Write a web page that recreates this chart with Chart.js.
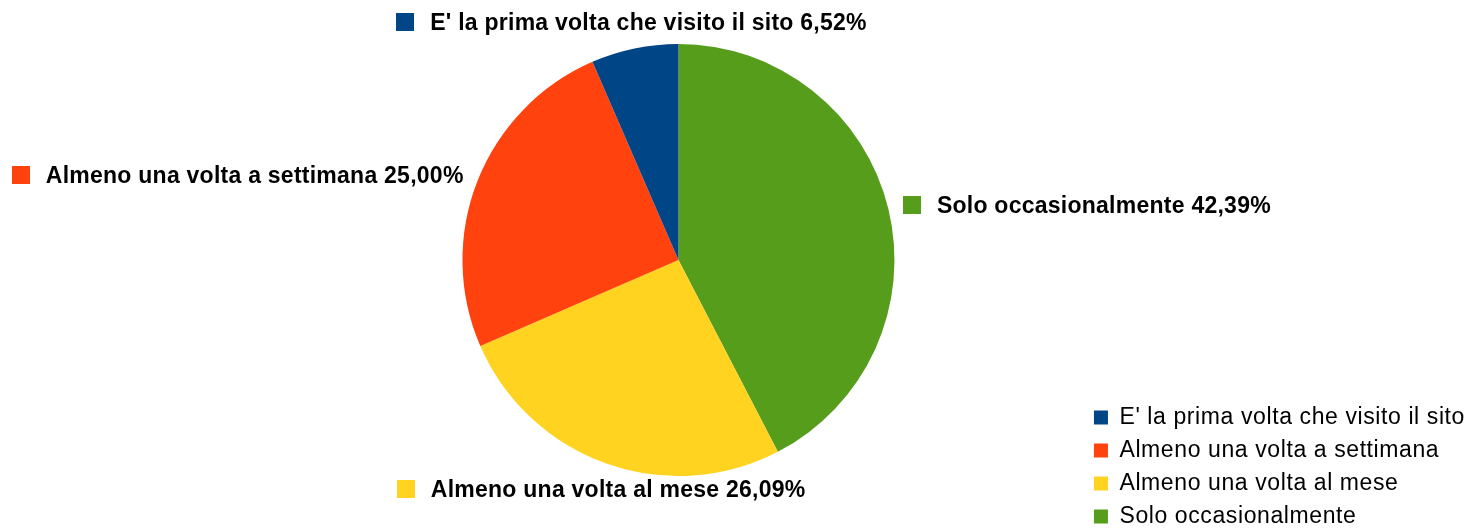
<!DOCTYPE html>
<html><head><meta charset="utf-8">
<script src="https://cdn.jsdelivr.net/npm/chart.js@4"></script>
<style>html,body{margin:0;padding:0;background:#fff;overflow:hidden}</style>
</head><body>
<canvas id="c" width="1467" height="530"></canvas>
<script>
// Data (clockwise from 12 o'clock)
const categories = ["Solo occasionalmente", "Almeno una volta al mese", "Almeno una volta a settimana", "E' la prima volta che visito il sito"];
const values = [42.39, 26.09, 25.00, 6.52];
const colors = ["#579d1c", "#ffd320", "#ff420e", "#004586"];

const FONT = '"Liberation Sans", Arial, Helvetica, sans-serif';
const pct = v => v.toFixed(2).replace('.', ',') + '%';

const spacingPlugin = {
  id: 'spacing',
  beforeLayout(chart) { chart.ctx.letterSpacing = '0.6px'; },
  afterLayout(chart) {
    // push the legend block to the bottom edge of the canvas
    const lg = chart.legend;
    if (lg) { const d = (chart.height + 8) - lg.bottom; lg.top += d; lg.bottom += d; }
  },
  beforeDraw(chart) { chart.ctx.letterSpacing = '0.6px'; }
};

const outsideLabels = {
  id: 'outsideLabels',
  afterDraw(chart) {
    const ctx = chart.ctx;
    const meta = chart.getDatasetMeta(0);
    ctx.save();
    ctx.letterSpacing = '0.25px';
    ctx.font = 'bold 23px ' + FONT;
    ctx.textBaseline = 'middle';
    ctx.textAlign = 'left';
    meta.data.forEach((arc, i) => {
      const p = arc.getProps(['x', 'y', 'startAngle', 'endAngle', 'outerRadius'], true);
      const mid = (p.startAngle + p.endAngle) / 2;
      const cx = Math.cos(mid), cy = Math.sin(mid);
      const R = p.outerRadius + 15;
      const ax = p.x + cx * R, ay = p.y + cy * R;
      const text = categories[i] + ' ' + pct(values[i]);
      const tw = ctx.measureText(text).width;
      const sq = 18, gap = 16, h = 23;
      const w = sq + gap + tw;
      let left, midY;
      if (Math.abs(cx) < 0.5) {
        left = ax - w / 2;
        midY = cy < 0 ? ay - h / 2 : ay + h / 2;
      } else {
        left = cx > 0 ? ax : ax - w;
        midY = ay;
      }
      ctx.fillStyle = colors[i];
      ctx.fillRect(Math.round(left), Math.round(midY - sq / 2), sq, sq);
      ctx.fillStyle = '#000';
      ctx.fillText(text, left + sq + gap, midY + 1);
    });
    ctx.restore();
  }
};

new Chart(document.getElementById('c'), {
  type: 'pie',
  data: {
    labels: categories,
    datasets: [{
      data: values,
      backgroundColor: colors,
      borderWidth: 0,
      radius: 216
    }]
  },
  options: {
    responsive: false,
    animation: false,
    layout: { padding: { left: 273, right: -8, top: 0, bottom: 10 } },
    plugins: {
      tooltip: { enabled: false },
      legend: {
        position: 'right',
        align: 'end',
        reverse: true,
        labels: {
          boxWidth: 14,
          boxHeight: 14,
          padding: 10,
          color: '#000',
          font: { family: FONT, size: 23 }
        }
      }
    }
  },
  plugins: [spacingPlugin, outsideLabels]
});
</script>
</body></html>
